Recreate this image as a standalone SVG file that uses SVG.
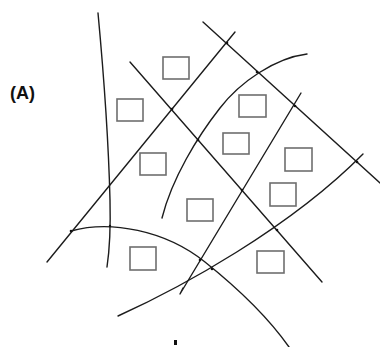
<svg xmlns="http://www.w3.org/2000/svg" width="380" height="347" viewBox="0 0 380 347">
  <style>
    .ln { fill: none; stroke: #1c1c1c; stroke-width: 1.4; stroke-linecap: round; stroke-linejoin: round; }
    .cell { fill: none; stroke: #6e6e6e; stroke-width: 1.6; }
    .jn { fill: #111; }
    .lbl { font-family: "Liberation Sans", Arial, sans-serif; font-size: 18px; font-weight: bold; fill: #111; }
  </style>
  <rect x="0" y="0" width="380" height="347" fill="#ffffff"/>

  <text class="lbl" x="10" y="99">(A)</text>

  <!-- crossing boundary lines -->
  <g id="lines">
    <path class="ln" d="M98,13 Q108,120 110,200 Q111,240 107,267"/>
    <path class="ln" d="M47,262 L235,32"/>
    <path class="ln" d="M130,62 L322,282"/>
    <path class="ln" d="M203,22 L380,183"/>
    <path class="ln" d="M307,54 C275,58 240,82 220,108 C198,136 172,178 162,218"/>
    <path class="ln" d="M301,93 L180,294 L183,288"/>
    <path class="ln" d="M118,316 C180,288 290,228 363,154"/>
    <path class="ln" d="M71,231 C110,220 165,230 205,262 C240,290 270,320 289,347"/>
    <g>
      <circle class="jn" cx="172" cy="109" r="1.3"/>
      <circle class="jn" cx="227" cy="43" r="1.3"/>
      <circle class="jn" cx="257" cy="72" r="1.3"/>
      <circle class="jn" cx="295" cy="106" r="1.3"/>
      <circle class="jn" cx="357" cy="162" r="1.3"/>
      <circle class="jn" cx="198" cy="140" r="1.3"/>
      <circle class="jn" cx="242" cy="190" r="1.3"/>
      <circle class="jn" cx="277" cy="230" r="1.3"/>
      <circle class="jn" cx="71" cy="231" r="1.3"/>
      <circle class="jn" cx="200" cy="260" r="1.3"/>
      <circle class="jn" cx="212" cy="269" r="1.3"/>
      <circle class="jn" cx="110" cy="226" r="1.2"/>
    </g>
  </g>

  <!-- cells -->
  <g id="cell1"><rect class="cell" x="163" y="57" width="26" height="22"/></g>
  <g id="cell2"><rect class="cell" x="117" y="99" width="26" height="22"/></g>
  <g id="cell3"><rect class="cell" x="140" y="153" width="26" height="22"/></g>
  <g id="cell4"><rect class="cell" x="187" y="199" width="26" height="22"/></g>
  <g id="cell5"><rect class="cell" x="223" y="133" width="26" height="21"/></g>
  <g id="cell6"><rect class="cell" x="239" y="95" width="27" height="22"/></g>
  <g id="cell7"><rect class="cell" x="285" y="148" width="27" height="23"/></g>
  <g id="cell8"><rect class="cell" x="270" y="183" width="26" height="23"/></g>
  <g id="cell9"><rect class="cell" x="257" y="251" width="27" height="22"/></g>
  <g id="cell10"><rect class="cell" x="130" y="247" width="26" height="23"/></g>

  <rect x="174" y="340" width="3" height="5" fill="#111"/>
</svg>
